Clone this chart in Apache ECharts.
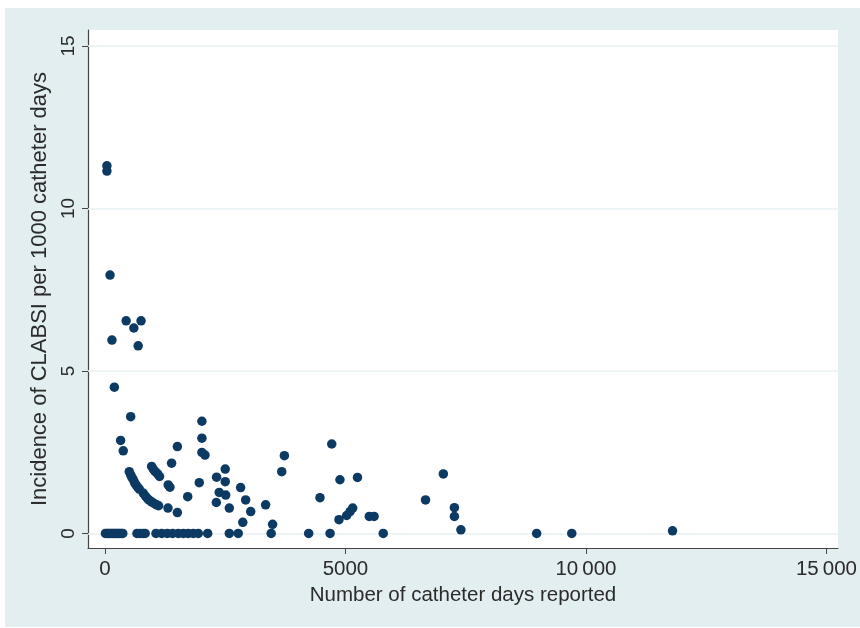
<!DOCTYPE html>
<html>
<head>
<meta charset="utf-8">
<script src="https://cdn.jsdelivr.net/npm/echarts@6/dist/echarts.min.js"></script>
<style>
  html, body { margin: 0; padding: 0; background: #fff; }
  #chart { width: 860px; height: 628px; }
</style>
</head>
<body>
<div id="chart"></div>
<script>
"use strict";

// catheter days reported, and CLABSI per 1000 catheter days
var catheterDays = [
  40, 40, 105, 145, 440, 600, 750, 690, 195, 535, 325, 380,
  505, 535, 560, 590, 615, 645, 680, 715,
  795, 840, 880, 920, 970, 1020, 1075, 1115, 1310, 1505,
  970, 1005, 1045, 1095, 1135,
  1385, 1505, 1315, 1350, 1720, 1960, 2015, 2015, 2015, 2080,
  2320, 2500, 2500, 2375, 2510, 2315, 2585, 2820, 2925, 3030, 2865,
  3340, 3485, 3730, 3675, 4470, 4715, 4885, 5250, 4865, 5025, 5095, 5150,
  5495, 5595, 6665, 7035, 7265, 7265, 7400, 11800,
  10, 40, 70, 100, 130, 160, 190, 220, 250, 280, 310, 340, 370,
  665, 730, 790, 835, 1060, 1180, 1295, 1405, 1525, 1630, 1730, 1835, 1940,
  2135, 2585, 2770, 3455, 4235, 4680, 5785, 8975, 9705
];
var incidence = [
  11.31, 11.15, 7.95, 5.95, 6.54, 6.32, 6.54, 5.77, 4.5, 3.59, 2.86, 2.54,
  1.9, 1.8, 1.72, 1.65, 1.56, 1.49, 1.42, 1.36,
  1.24, 1.15, 1.08, 1.02, 0.97, 0.92, 0.88, 0.85, 0.78, 0.64,
  2.06, 1.98, 1.9, 1.83, 1.75,
  2.16, 2.67, 1.49, 1.42, 1.13, 1.56, 3.45, 2.93, 2.49, 2.41,
  1.73, 1.98, 1.59, 1.26, 1.18, 0.95, 0.78, 1.41, 1.03, 0.67, 0.34,
  0.88, 0.28, 2.39, 1.9, 1.1, 2.75, 1.65, 1.72, 0.42, 0.55, 0.67, 0.78,
  0.52, 0.52, 1.03, 1.83, 0.79, 0.52, 0.11, 0.08,
  0, 0, 0, 0, 0, 0, 0, 0, 0, 0, 0, 0, 0,
  0, 0, 0, 0, 0, 0, 0, 0, 0, 0, 0, 0, 0,
  0, 0, 0, 0, 0, 0, 0, 0, 0
];

var xTicks = [0, 5000, 10000, 15000];
var yTicks = [0, 5, 10, 15];

var points = catheterDays.map(function (d, i) {
  return [d, incidence[i]];
});

var textColor = "#2b2b2b";
var fontFamily = "Liberation Sans, Arial, sans-serif";

var chart = echarts.init(document.getElementById("chart"));

chart.setOption({
  animation: false,
  backgroundColor: "#ffffff",
  graphic: [
    {
      type: "rect",
      z: -10,
      shape: { x: 5, y: 8, width: 855, height: 619 },
      style: { fill: "#e2eef0" },
    },
  ],
  grid: {
    left: 88,
    right: 22,
    top: 30,
    bottom: 80,
    show: true,
    backgroundColor: "#ffffff",
    borderWidth: 0,
  },
  xAxis: {
    type: "value",
    min: -353,
    max: 15240,
    name: "Number of catheter days reported",
    nameLocation: "middle",
    nameGap: 36,
    nameTextStyle: { color: textColor, fontSize: 20.5, fontFamily: fontFamily },
    axisLine: { show: true, onZero: false, lineStyle: { color: "#444", width: 1.2 } },
    axisTick: { show: true, length: 6, customValues: xTicks, lineStyle: { color: "#444" } },
    axisLabel: {
      customValues: xTicks,
      margin: 11,
      color: textColor,
      fontSize: 20.5,
      fontFamily: fontFamily,
      formatter: function (v) {
        return v >= 10000 ? Math.floor(v / 1000) + "\u2009000" : String(v);
      },
    },
    splitLine: { show: false },
  },
  yAxis: {
    type: "value",
    min: -0.45,
    max: 15.49,
    name: "Incidence of CLABSI per 1000 catheter days",
    nameLocation: "middle",
    nameGap: 36,
    nameTextStyle: { color: textColor, fontSize: 22, fontFamily: fontFamily },
    axisLine: { show: true, onZero: false, lineStyle: { color: "#444", width: 1.2 } },
    axisTick: { show: true, length: 6, customValues: yTicks, lineStyle: { color: "#444" } },
    axisLabel: {
      customValues: yTicks,
      rotate: 90,
      margin: 10,
      color: textColor,
      fontSize: 19,
      fontFamily: fontFamily,
    },
    splitLine: { show: false },
  },
  series: [
    {
      type: "scatter",
      data: points,
      symbol: "circle",
      symbolSize: 9.5,
      itemStyle: { color: "#0d3a63", opacity: 1 },
      markLine: {
        silent: true,
        symbol: "none",
        z: 1,
        label: { show: false },
        lineStyle: { color: "#e6f0f3", width: 1.5, type: "solid" },
        data: yTicks.map(function (t) {
          return { yAxis: t };
        }),
      },
    },
  ],
});
</script>
</body>
</html>
